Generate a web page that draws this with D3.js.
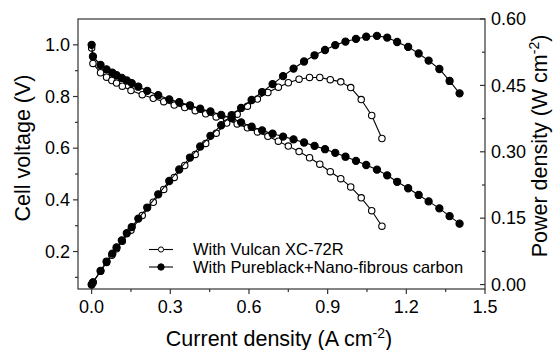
<!DOCTYPE html>
<html>
<head>
<meta charset="utf-8">
<script src="https://cdn.jsdelivr.net/npm/d3@7"></script>
<style>
  body { margin: 0; background: #fff; }
  svg { font-family: "Liberation Sans", Arial, Helvetica, sans-serif; }
</style>
</head>
<body>
<script>
var w = 556;
var h = 350;

// current density (A cm-2), cell voltage (V), power density (W cm-2)
var currentVX = [0, 0.005, 0.034, 0.057, 0.077, 0.095, 0.117, 0.150, 0.193, 0.235, 0.275, 0.315,
                 0.355, 0.395, 0.435, 0.475, 0.515, 0.555, 0.594, 0.632, 0.672, 0.712, 0.750, 0.791,
                 0.831, 0.870, 0.910, 0.950, 0.988, 1.028, 1.068, 1.107];
var voltageVX = [0.988, 0.928, 0.892, 0.875, 0.862, 0.852, 0.840, 0.823, 0.807, 0.793, 0.780, 0.767,
                 0.757, 0.745, 0.733, 0.721, 0.709, 0.694, 0.679, 0.663, 0.646, 0.627, 0.608, 0.587,
                 0.563, 0.538, 0.509, 0.482, 0.450, 0.408, 0.358, 0.298];
var powerVX = [0, 0.005, 0.030, 0.050, 0.066, 0.081, 0.098, 0.123, 0.156, 0.186, 0.215, 0.242,
               0.269, 0.294, 0.319, 0.342, 0.365, 0.385, 0.403, 0.419, 0.434, 0.446, 0.456, 0.464,
               0.468, 0.468, 0.463, 0.458, 0.445, 0.418, 0.382, 0.330];

var currentPB = [0, 0.005, 0.034, 0.057, 0.079, 0.095, 0.115, 0.134, 0.153, 0.178, 0.212, 0.254,
                 0.296, 0.334, 0.375, 0.414, 0.453, 0.494, 0.534, 0.570, 0.610, 0.650, 0.690, 0.730,
                 0.770, 0.810, 0.850, 0.890, 0.929, 0.968, 1.008, 1.047, 1.088, 1.127, 1.165, 1.207,
                 1.247, 1.285, 1.326, 1.365, 1.403];
var voltagePB = [1.000, 0.955, 0.922, 0.905, 0.892, 0.883, 0.872, 0.862, 0.852, 0.838, 0.822, 0.805,
                 0.789, 0.778, 0.766, 0.753, 0.742, 0.729, 0.717, 0.700, 0.683, 0.669, 0.656, 0.645,
                 0.634, 0.622, 0.609, 0.596, 0.582, 0.567, 0.551, 0.535, 0.517, 0.495, 0.470, 0.445,
                 0.419, 0.394, 0.367, 0.337, 0.308];
var powerPB = [0, 0.005, 0.031, 0.052, 0.070, 0.084, 0.100, 0.116, 0.130, 0.149, 0.174, 0.204,
               0.234, 0.260, 0.287, 0.312, 0.336, 0.360, 0.383, 0.399, 0.417, 0.435, 0.453, 0.471,
               0.488, 0.504, 0.518, 0.530, 0.541, 0.549, 0.555, 0.560, 0.562, 0.558, 0.548, 0.537,
               0.522, 0.506, 0.487, 0.460, 0.432];

var xTicks = [0.0, 0.3, 0.6, 0.9, 1.2, 1.5];
var yLeftTicks = [0.2, 0.4, 0.6, 0.8, 1.0];
var yRightTicks = [0.00, 0.15, 0.30, 0.45, 0.60];
var legendLabels = ["With Vulcan XC-72R", "With Pureblack+Nano-fibrous carbon"];

var mLeft = 78, mRight = 485, mTop = 19, mBottom = 289;

var x = d3.scaleLinear().domain([-0.052, 1.5]).range([mLeft, mRight]);
var yL = d3.scaleLinear().domain([0.055, 1.1]).range([mBottom, mTop]);
var yR = d3.scaleLinear().domain([-0.01, 0.6]).range([mBottom, mTop]);

var svg = d3.select("body").append("svg")
  .attr("width", w)
  .attr("height", h);

var axisColor = "#333";
var tickFont = 18;
var titleFont = 21.5;

// frame
svg.append("rect")
  .attr("x", mLeft).attr("y", mTop)
  .attr("width", mRight - mLeft).attr("height", mBottom - mTop)
  .attr("fill", "none").attr("stroke", axisColor).attr("stroke-width", 1.2);

// bottom axis
var xMinor = d3.range(0, 1.51, 0.15);
svg.append("g").selectAll("line").data(xMinor).enter().append("line")
  .attr("x1", function(d) { return x(d); }).attr("x2", function(d) { return x(d); })
  .attr("y1", mBottom).attr("y2", function(d, i) { return mBottom + (i % 2 == 0 ? 5 : 3); })
  .attr("stroke", axisColor).attr("stroke-width", 1.2);
svg.append("g").selectAll("text").data(xTicks).enter().append("text")
  .attr("x", function(d) { return x(d); }).attr("y", mBottom + 24)
  .attr("text-anchor", "middle").attr("font-size", tickFont)
  .text(function(d) { return d3.format(".1f")(d); });

// left axis
var yLMinor = d3.range(0.1, 1.05, 0.1);
svg.append("g").selectAll("line").data(yLMinor).enter().append("line")
  .attr("y1", function(d) { return yL(d); }).attr("y2", function(d) { return yL(d); })
  .attr("x1", mLeft).attr("x2", function(d, i) { return mLeft - (i % 2 == 1 ? 5 : 3); })
  .attr("stroke", axisColor).attr("stroke-width", 1.2);
svg.append("g").selectAll("text").data(yLeftTicks).enter().append("text")
  .attr("x", mLeft - 8).attr("y", function(d) { return yL(d); })
  .attr("dy", "0.35em").attr("text-anchor", "end").attr("font-size", tickFont)
  .text(function(d) { return d3.format(".1f")(d); });

// right axis (ticks inward)
var yRMinor = d3.range(0, 0.61, 0.075);
svg.append("g").selectAll("line").data(yRMinor).enter().append("line")
  .attr("y1", function(d) { return yR(d); }).attr("y2", function(d) { return yR(d); })
  .attr("x1", mRight).attr("x2", function(d, i) { return mRight - (i % 2 == 0 ? 5 : 3); })
  .attr("stroke", axisColor).attr("stroke-width", 1.2);
svg.append("g").selectAll("text").data(yRightTicks).enter().append("text")
  .attr("x", mRight + 6).attr("y", function(d) { return yR(d); })
  .attr("dy", "0.35em").attr("text-anchor", "start").attr("font-size", tickFont)
  .text(function(d) { return d3.format(".2f")(d); });

// axis titles
var xt = svg.append("text")
  .attr("x", 279).attr("y", 346)
  .attr("text-anchor", "middle").attr("font-size", titleFont);
xt.append("tspan").text("Current density (A cm");
xt.append("tspan").attr("dy", -8).attr("font-size", 14).text("-2");
xt.append("tspan").attr("dy", 8).text(")");

svg.append("text")
  .attr("transform", "translate(30,148) rotate(-90)")
  .attr("text-anchor", "middle").attr("font-size", titleFont)
  .text("Cell voltage (V)");

var rt = svg.append("text")
  .attr("transform", "translate(547,146) rotate(-90)")
  .attr("text-anchor", "middle").attr("font-size", titleFont);
rt.append("tspan").text("Power density (W cm");
rt.append("tspan").attr("dy", -8).attr("font-size", 14).text("-2");
rt.append("tspan").attr("dy", 8).text(")");

// series
function drawSeries(cur, vals, yScale, filled) {
  var pts = cur.map(function(c, i) { return [c, vals[i]]; });
  var line = d3.line()
    .x(function(d) { return x(d[0]); })
    .y(function(d) { return yScale(d[1]); });
  svg.append("path").datum(pts)
    .attr("d", line)
    .attr("fill", "none").attr("stroke", "#000").attr("stroke-width", 1.1);
  svg.append("g").selectAll("circle").data(pts).enter().append("circle")
    .attr("cx", function(d) { return x(d[0]); })
    .attr("cy", function(d) { return yScale(d[1]); })
    .attr("r", filled ? 3.6 : 3.2)
    .attr("fill", filled ? "#000" : "#fff")
    .attr("stroke", "#000").attr("stroke-width", 1.1);
}

drawSeries(currentVX, voltageVX, yL, false);
drawSeries(currentVX, powerVX, yR, false);
drawSeries(currentPB, voltagePB, yL, true);
drawSeries(currentPB, powerPB, yR, true);

// legend
var legend = svg.append("g").selectAll("g").data(legendLabels).enter().append("g")
  .attr("transform", function(d, i) { return "translate(149," + (249.5 + i * 17.5) + ")"; });
legend.append("line")
  .attr("x1", 0).attr("x2", 24).attr("y1", 0).attr("y2", 0)
  .attr("stroke", "#000").attr("stroke-width", 1.1);
legend.append("circle")
  .attr("cx", 12).attr("cy", 0)
  .attr("r", function(d, i) { return i == 0 ? 2.6 : 3.2; })
  .attr("fill", function(d, i) { return i == 0 ? "#fff" : "#000"; })
  .attr("stroke", "#000").attr("stroke-width", 1);
legend.append("text")
  .attr("x", 44).attr("y", 0).attr("dy", "0.35em")
  .attr("font-size", 16.5)
  .text(function(d) { return d; });
</script>
</body>
</html>
